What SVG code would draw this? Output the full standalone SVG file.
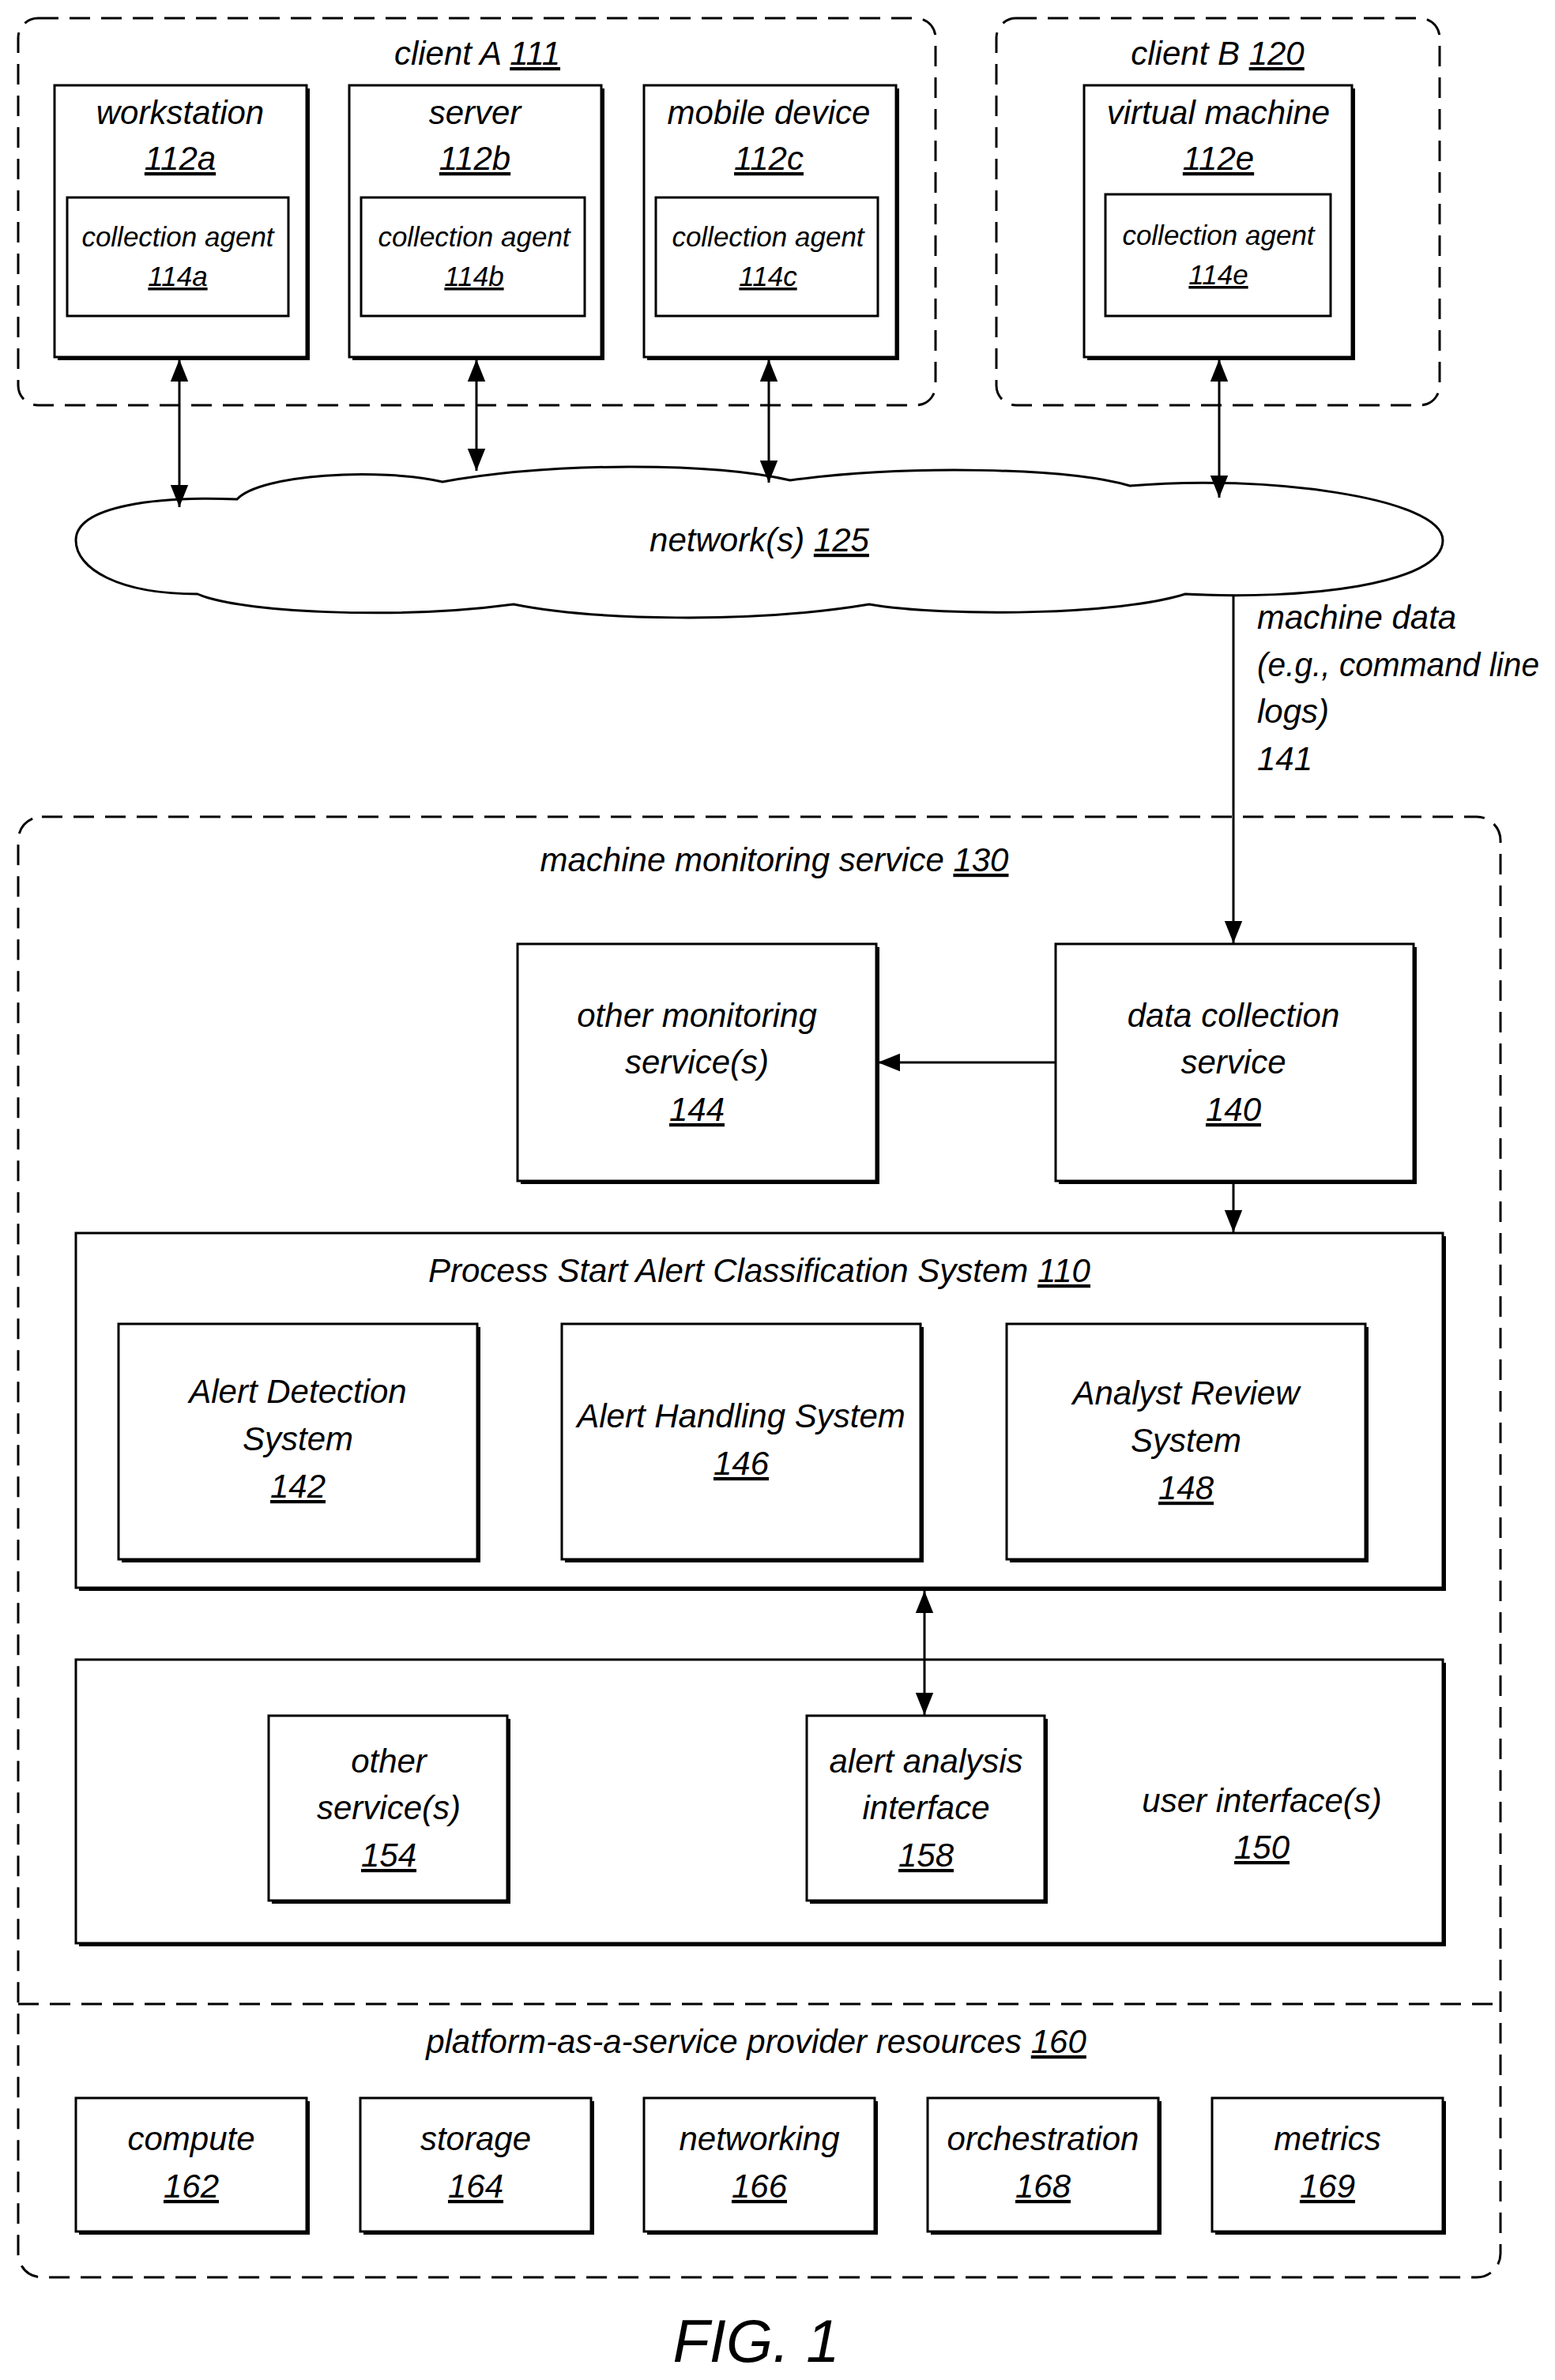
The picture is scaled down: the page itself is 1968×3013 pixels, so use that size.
<svg xmlns="http://www.w3.org/2000/svg" width="1968" height="3013" viewBox="0 0 1968 3013">
<style>
text{font-family:"Liberation Sans",Arial,sans-serif;font-style:italic;fill:#000;text-anchor:middle}
.t{font-size:42px}.s{font-size:35px}
.l{text-anchor:start}
.u{text-decoration:underline}
.b{fill:#fff;stroke:#000;stroke-width:3}
.sh{fill:#000}
.d{fill:none;stroke:#000;stroke-width:3;stroke-dasharray:26 14}
.c{stroke:#000;stroke-width:3;fill:none}
</style>
<defs>
<marker id="a" viewBox="0 0 10 10" refX="10" refY="5" markerWidth="28" markerHeight="28" markerUnits="userSpaceOnUse" orient="auto-start-reverse"><path d="M0,1L10,5L0,9z"/></marker>
</defs>
<rect width="1968" height="3013" fill="#fff"/>
<g id="clientA"><rect class="d" x="23" y="23" width="1161" height="490" rx="25"/><text class="t" x="604" y="82">client A <tspan class="u">111</tspan></text></g>
<g id="clientB"><rect class="d" x="1261" y="23" width="561" height="490" rx="25"/><text class="t" x="1541" y="82">client B <tspan class="u">120</tspan></text></g>
<g id="ws"><rect class="sh" x="73" y="112" width="319" height="344"/><rect class="b" x="69" y="108" width="319" height="344"/><text class="t" x="228" y="157">workstation</text><text class="t u" x="228" y="215">112a</text>
<rect class="b" x="85" y="250" width="280" height="150"/><text class="s" x="225" y="312">collection agent</text><text class="s u" x="225" y="362">114a</text></g>
<g id="srv"><rect class="sh" x="446" y="112" width="319" height="344"/><rect class="b" x="442" y="108" width="319" height="344"/><text class="t" x="601" y="157">server</text><text class="t u" x="601" y="215">112b</text>
<rect class="b" x="457" y="250" width="283" height="150"/><text class="s" x="600" y="312">collection agent</text><text class="s u" x="600" y="362">114b</text></g>
<g id="mob"><rect class="sh" x="819" y="112" width="319" height="344"/><rect class="b" x="815" y="108" width="319" height="344"/><text class="t" x="973" y="157">mobile device</text><text class="t u" x="973" y="215">112c</text>
<rect class="b" x="830" y="250" width="281" height="150"/><text class="s" x="972" y="312">collection agent</text><text class="s u" x="972" y="362">114c</text></g>
<g id="vm"><rect class="sh" x="1376" y="112" width="339" height="344"/><rect class="b" x="1372" y="108" width="339" height="344"/><text class="t" x="1542" y="157">virtual machine</text><text class="t u" x="1542" y="215">112e</text>
<rect class="b" x="1399" y="246" width="285" height="154"/><text class="s" x="1542" y="310">collection agent</text><text class="s u" x="1542" y="360">114e</text></g>
<g id="network"><path class="b" d="M96,684 C96,640 200,628 300,632 C330,600 480,592 560,610 C700,585 900,585 1000,608 C1150,588 1350,592 1430,615 C1600,600 1826,630 1826,684 C1826,740 1650,760 1500,752 C1420,778 1200,782 1100,765 C950,790 750,785 650,765 C500,785 300,775 250,752 C150,752 96,720 96,684 Z"/><text class="t" x="961" y="698">network(s) <tspan class="u">125</tspan></text></g>
<g id="mms"><rect class="d" x="23" y="1034" width="1876" height="1849" rx="30"/><line class="d" x1="23" y1="2537" x2="1899" y2="2537"/><text class="t" x="980" y="1103">machine monitoring service <tspan class="u">130</tspan></text>
<text class="t" x="957" y="2599">platform-as-a-service provider resources <tspan class="u">160</tspan></text></g>
<g id="oms"><rect class="sh" x="659" y="1199" width="454" height="300"/><rect class="b" x="655" y="1195" width="454" height="300"/><text class="t" x="882" y="1300">other monitoring</text><text class="t" x="882" y="1359">service(s)</text><text class="t u" x="882" y="1419">144</text></g>
<g id="dcs"><rect class="sh" x="1340" y="1199" width="453" height="300"/><rect class="b" x="1336" y="1195" width="453" height="300"/><text class="t" x="1561" y="1300">data collection</text><text class="t" x="1561" y="1359">service</text><text class="t u" x="1561" y="1419">140</text></g>
<g id="psac"><rect class="sh" x="100" y="1565" width="1730" height="449"/><rect class="b" x="96" y="1561" width="1730" height="449"/><text class="t" x="961" y="1623">Process Start Alert Classification System <tspan class="u">110</tspan></text></g>
<g id="ads"><rect class="sh" x="154" y="1680" width="454" height="298"/><rect class="b" x="150" y="1676" width="454" height="298"/><text class="t" x="377" y="1776">Alert Detection</text><text class="t" x="377" y="1836">System</text><text class="t u" x="377" y="1896">142</text></g>
<g id="ahs"><rect class="sh" x="715" y="1680" width="454" height="298"/><rect class="b" x="711" y="1676" width="454" height="298"/><text class="t" x="938" y="1807">Alert Handling System</text><text class="t u" x="938" y="1867">146</text></g>
<g id="ars"><rect class="sh" x="1278" y="1680" width="454" height="298"/><rect class="b" x="1274" y="1676" width="454" height="298"/><text class="t" x="1501" y="1778">Analyst Review</text><text class="t" x="1501" y="1838">System</text><text class="t u" x="1501" y="1898">148</text></g>
<g id="ui"><rect class="sh" x="100" y="2105" width="1730" height="359"/><rect class="b" x="96" y="2101" width="1730" height="359"/><text class="t" x="1597" y="2294">user interface(s)</text><text class="t u" x="1597" y="2353">150</text></g>
<g id="os"><rect class="sh" x="344" y="2176" width="302" height="234"/><rect class="b" x="340" y="2172" width="302" height="234"/><text class="t" x="492" y="2244">other</text><text class="t" x="492" y="2303">service(s)</text><text class="t u" x="492" y="2363">154</text></g>
<g id="aai"><rect class="sh" x="1025" y="2176" width="301" height="234"/><rect class="b" x="1021" y="2172" width="301" height="234"/><text class="t" x="1172" y="2244">alert analysis</text><text class="t" x="1172" y="2303">interface</text><text class="t u" x="1172" y="2363">158</text></g>
<g id="compute"><rect class="sh" x="100" y="2660" width="292" height="169"/><rect class="b" x="96" y="2656" width="292" height="169"/><text class="t" x="242" y="2722">compute</text><text class="t u" x="242" y="2782">162</text></g>
<g id="storage"><rect class="sh" x="460" y="2660" width="292" height="169"/><rect class="b" x="456" y="2656" width="292" height="169"/><text class="t" x="602" y="2722">storage</text><text class="t u" x="602" y="2782">164</text></g>
<g id="networking"><rect class="sh" x="819" y="2660" width="292" height="169"/><rect class="b" x="815" y="2656" width="292" height="169"/><text class="t" x="961" y="2722">networking</text><text class="t u" x="961" y="2782">166</text></g>
<g id="orch"><rect class="sh" x="1178" y="2660" width="292" height="169"/><rect class="b" x="1174" y="2656" width="292" height="169"/><text class="t" x="1320" y="2722">orchestration</text><text class="t u" x="1320" y="2782">168</text></g>
<g id="metrics"><rect class="sh" x="1538" y="2660" width="292" height="169"/><rect class="b" x="1534" y="2656" width="292" height="169"/><text class="t" x="1680" y="2722">metrics</text><text class="t u" x="1680" y="2782">169</text></g>
<g id="connectors">
<line class="c" x1="227" y1="455" x2="227" y2="642" marker-start="url(#a)" marker-end="url(#a)"/>
<line class="c" x1="603" y1="455" x2="603" y2="596" marker-start="url(#a)" marker-end="url(#a)"/>
<line class="c" x1="973" y1="455" x2="973" y2="611" marker-start="url(#a)" marker-end="url(#a)"/>
<line class="c" x1="1543" y1="455" x2="1543" y2="630" marker-start="url(#a)" marker-end="url(#a)"/>
<line class="c" x1="1561" y1="753" x2="1561" y2="1194" marker-end="url(#a)"/>
<line class="c" x1="1336" y1="1345" x2="1111" y2="1345" marker-end="url(#a)"/>
<line class="c" x1="1561" y1="1499" x2="1561" y2="1560" marker-end="url(#a)"/>
<line class="c" x1="1170" y1="2014" x2="1170" y2="2171" marker-start="url(#a)" marker-end="url(#a)"/>
</g>
<g id="labels">
<text class="t l" x="1591" y="796">machine data</text>
<text class="t l" x="1591" y="856" textLength="357" lengthAdjust="spacingAndGlyphs">(e.g., command line</text>
<text class="t l" x="1591" y="915">logs)</text>
<text class="t l" x="1591" y="975">141</text>
</g>
<text x="957" y="2990" style="font-size:76px">FIG. 1</text>
</svg>
